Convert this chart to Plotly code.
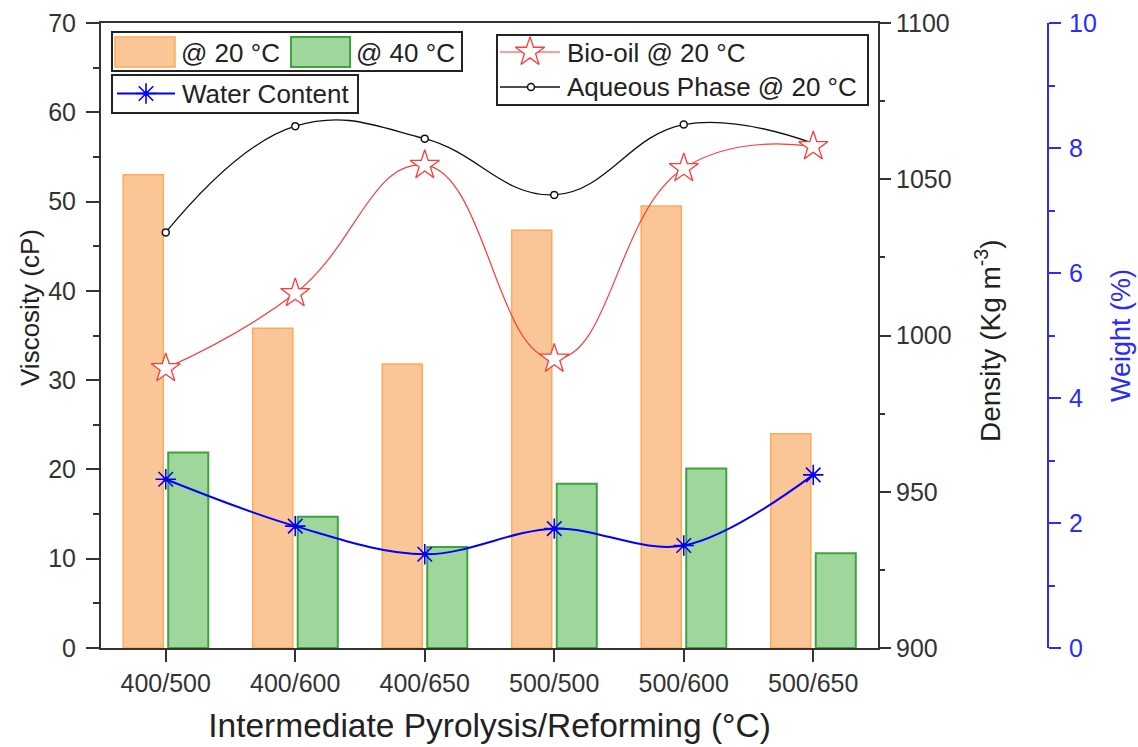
import plotly.graph_objects as go

# ---- data ----
categories = ["400/500", "400/600", "400/650", "500/500", "500/600", "500/650"]
viscosity_20C = [53.0, 35.8, 31.8, 46.8, 49.5, 24.0]      # cP
viscosity_40C = [21.9, 14.7, 11.3, 18.4, 20.1, 10.6]      # cP
density_bio_oil = [989.5, 1013.5, 1054.5, 992.5, 1053.5, 1060.5]   # kg m^-3
density_aqueous = [1033.0, 1067.0, 1063.0, 1045.0, 1067.5, 1061.5]  # kg m^-3
water_content = [2.70, 1.95, 1.50, 1.91, 1.64, 2.77]      # wt %

viscosity_ticks = [0, 10, 20, 30, 40, 50, 60, 70]
density_ticks = [900, 950, 1000, 1050, 1100]
weight_ticks = [0, 2, 4, 6, 8, 10]

# ---- styling ----
FONT = "Liberation Sans, Arial, sans-serif"
AX = "#333333"
TXT = "#222222"
BLUE_AX = "#2B2BFF"
ORANGE_FILL = "#FAC697"
ORANGE_EDGE = "#FFAA55"
GREEN_FILL = "#9FD69B"
GREEN_EDGE = "#3FA33F"
RED = "#FF3A3A"
BLUE = "#0000FF"
BLACK = "#111111"

W, H = 1138, 747
ML, MR, MT, MB = 101, 0, 23, 99
plot_w = W - ML - MR
plot_h = H - MT - MB
x_end = 777 / plot_w            # main plot area: 777 px wide
weight_pos = 947 / plot_w       # third axis, 947 px right of the left axis


def px_to_paper(px, py):
    """Convert pixel position in the figure to paper coordinates."""
    return (px - ML) / plot_w, (H - MB - py) / plot_h


fig = go.Figure()

fig.add_trace(go.Bar(
    x=categories, y=viscosity_20C, name="@ 20 °C",
    marker=dict(color=ORANGE_FILL, line=dict(color=ORANGE_EDGE, width=1.5)),
    xaxis="x", yaxis="y", showlegend=False))
fig.add_trace(go.Bar(
    x=categories, y=viscosity_40C, name="@ 40 °C",
    marker=dict(color=GREEN_FILL, line=dict(color=GREEN_EDGE, width=2)),
    xaxis="x", yaxis="y", showlegend=False))

fig.add_trace(go.Scatter(
    x=categories, y=density_aqueous, name="Aqueous Phase @ 20 °C",
    mode="lines+markers", line=dict(color=BLACK, width=1.3, shape="spline", smoothing=1.2),
    marker=dict(symbol="circle", size=7, color="white", line=dict(width=1.5, color=BLACK)),
    xaxis="x", yaxis="y2", showlegend=False, cliponaxis=False))
fig.add_trace(go.Scatter(
    x=categories, y=density_bio_oil, name="Bio-oil @ 20 °C",
    mode="lines+markers", line=dict(color=RED, width=1.2, shape="spline", smoothing=1.3),
    marker=dict(symbol="star", size=22, color="white", line=dict(width=1.3, color=RED)),
    xaxis="x", yaxis="y2", showlegend=False, cliponaxis=False))
fig.add_trace(go.Scatter(
    x=categories, y=water_content, name="Water Content",
    mode="lines+markers", line=dict(color=BLUE, width=2, shape="spline", smoothing=1.0),
    marker=dict(symbol="asterisk-open", size=17, color=BLUE, line=dict(width=1.6, color=BLUE)),
    xaxis="x", yaxis="y3", showlegend=False, cliponaxis=False))
# centre dots of the water-content asterisks
fig.add_trace(go.Scatter(
    x=categories, y=water_content, mode="markers",
    marker=dict(symbol="circle", size=5, color=BLUE),
    xaxis="x", yaxis="y3", showlegend=False, cliponaxis=False, hoverinfo="skip"))

# ---- legend glyphs on a pixel-scaled helper axis ----
def glyph_line(xs, ys, color, width):
    fig.add_trace(go.Scatter(x=xs, y=ys, mode="lines", line=dict(color=color, width=width),
                             xaxis="x5", yaxis="y5", showlegend=False, hoverinfo="skip"))

def glyph_marker(x, y, marker):
    fig.add_trace(go.Scatter(x=[x], y=[y], mode="markers", marker=marker,
                             xaxis="x5", yaxis="y5", showlegend=False, hoverinfo="skip",
                             cliponaxis=False))

glyph_line([117, 175], [93.5, 93.5], BLUE, 2)
glyph_line([500, 560], [52, 52], RED, 1.2)
glyph_line([500, 560], [87, 87], BLACK, 1.3)
glyph_marker(146, 93.5, dict(symbol="asterisk-open", size=17, color=BLUE, line=dict(width=1.6, color=BLUE)))
glyph_marker(146, 93.5, dict(symbol="circle", size=5, color=BLUE))
glyph_marker(530, 52, dict(symbol="star", size=22, color="white", line=dict(width=1.3, color=RED)))
glyph_marker(531, 87, dict(symbol="circle", size=7, color="white", line=dict(width=1.5, color=BLACK)))

shapes = []
def box(x0, y0, x1, y1, **kw):
    shapes.append(dict(type="rect", xref="x5", yref="y5", x0=x0, y0=y0, x1=x1, y1=y1, **kw))

box(112, 32, 462, 71, line=dict(color=TXT, width=2), layer="below")
box(115, 37, 175, 67, fillcolor=ORANGE_FILL, line=dict(color=ORANGE_EDGE, width=1.5))
box(291, 37, 350, 67, fillcolor=GREEN_FILL, line=dict(color=GREEN_EDGE, width=2))
box(112, 75, 358, 113, line=dict(color=TXT, width=2), layer="below")
box(497, 35, 868, 105, line=dict(color=TXT, width=2), layer="below")

annotations = []
def label(x, y, text, size=26, color=TXT, angle=0, xanchor="left"):
    px, py = px_to_paper(x, y)
    annotations.append(dict(xref="paper", yref="paper", x=px, y=py, text=text, showarrow=False,
                            xanchor=xanchor, yanchor="middle", textangle=angle,
                            font=dict(family=FONT, size=size, color=color)))

label(179, 53, "@ 20 °C")
label(354, 53, "@ 40 °C")
label(180, 94, "Water Content")
label(565, 53, "Bio-oil @ 20 °C")
label(565, 87, "Aqueous Phase @ 20 °C")

# vertical axis titles for the two inner axes
label(30, 308, "Viscosity (cP)", size=26, angle=-90, xanchor="center")
label(988, 341, "Density (Kg m<sup>-3</sup>)", size=28, angle=-90, xanchor="center")

tick_font = dict(family=FONT, size=25, color="#333333")

fig.update_layout(
    width=W, height=H,
    margin=dict(l=ML, r=MR, t=MT, b=MB, autoexpand=False),
    paper_bgcolor="white", plot_bgcolor="rgba(0,0,0,0)",
    barmode="group", bargap=0.305, bargroupgap=0.11,
    showlegend=False,
    shapes=shapes, annotations=annotations,
    xaxis=dict(
        domain=[0, x_end], type="category", range=[-0.5, 5.5],
        showline=True, linecolor=AX, linewidth=2, mirror=True,
        ticks="outside", ticklen=12, tickwidth=2, tickcolor=AX,
        tickfont=tick_font, showgrid=False, zeroline=False,
        ticklabelstandoff=0,
        title=dict(text="Intermediate Pyrolysis/Reforming (°C)",
                   font=dict(family=FONT, size=33.5, color=TXT), standoff=18),
    ),
    yaxis=dict(
        range=[0, 70], tickvals=viscosity_ticks,
        showline=True, linecolor=AX, linewidth=2,
        ticks="outside", ticklen=13, tickwidth=2, tickcolor=AX,
        minor=dict(dtick=5, ticks="outside", ticklen=6, tickwidth=2, tickcolor=AX),
        tickfont=tick_font, showgrid=False, zeroline=False,
        ticklabelstandoff=5,
    ),
    yaxis2=dict(
        range=[900, 1100], tickvals=density_ticks, overlaying="y", side="right",
        anchor="x", showline=True, linecolor=AX, linewidth=2,
        ticks="outside", ticklen=11, tickwidth=2, tickcolor=AX,
        minor=dict(dtick=25, ticks="outside", ticklen=5, tickwidth=2, tickcolor=AX),
        tickfont=tick_font, showgrid=False, zeroline=False,
    ),
    yaxis3=dict(
        range=[0, 10], tickvals=weight_ticks, overlaying="y", side="right",
        anchor="free", position=weight_pos, showline=True, linecolor=BLUE_AX, linewidth=2,
        ticks="outside", ticklen=12, tickwidth=2, tickcolor=BLUE_AX,
        minor=dict(dtick=1, ticks="outside", ticklen=6, tickwidth=2, tickcolor=BLUE_AX),
        tickfont=dict(family=FONT, size=25, color=BLUE_AX), showgrid=False, zeroline=False,
        ticklabelstandoff=3,
        title=dict(text="Weight (%)", font=dict(family=FONT, size=27, color=BLUE_AX), standoff=14),
    ),
    xaxis5=dict(domain=[0, 1], range=[ML, W - MR], visible=False, fixedrange=True, anchor="y5"),
    yaxis5=dict(domain=[0, 1], range=[H - MB, MT], visible=False, fixedrange=True, anchor="x5"),
)

fig.write_html("out.html")
